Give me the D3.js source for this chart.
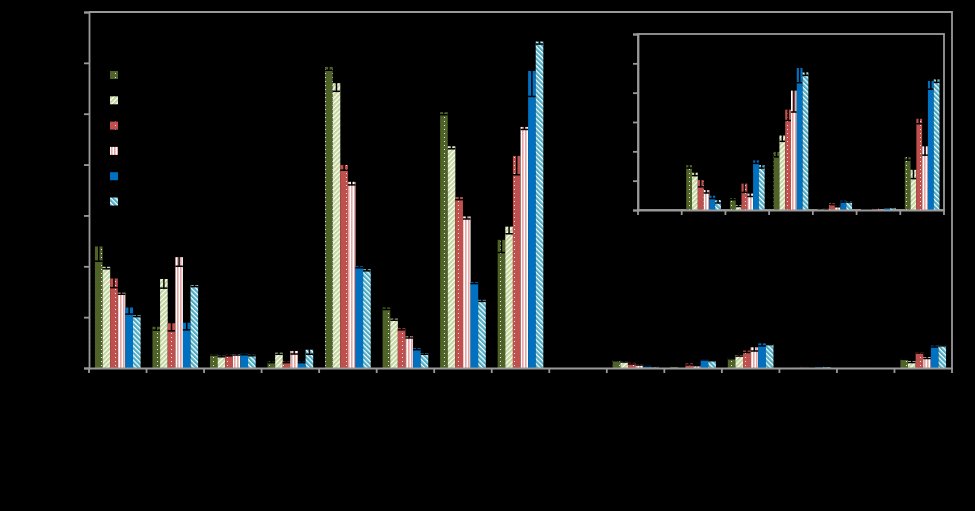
<!DOCTYPE html>
<html>
<head>
<meta charset="utf-8">
<script src="https://cdn.jsdelivr.net/npm/d3@7"></script>
<style>
  body { margin: 0; background: #000; }
  svg { display: block; }
  text { font-family: "Liberation Sans", Arial, sans-serif; font-size: 11px; fill: #000; }
</style>
</head>
<body>
<div id="chart-area"></div>
<script>

var width = 975,
	height = 511;

// 15 groups, the inset zooms in on groups 9-15
var categories = ["1","2","3","4","5","6","7","8","9","10","11","12","13","14","15"];
var insetCategories = ["9","10","11","12","13","14","15"];
var seriesNames = ["s1","s2","s3","s4","s5","s6"];

var values = [
	[23.9, 8.1, 2.75, 1.25, 59.2, 11.9, 50.3, 25.2, 0, 1.53, 0.40, 1.98, 0.06, 0.01, 1.80],
	[19.9, 17.5, 2.4, 3.0, 56.0, 9.7, 43.6, 27.8, 0, 1.27, 0.17, 2.54, 0.04, 0.01, 1.37],
	[17.6, 8.8, 2.6, 1.25, 39.9, 7.8, 33.6, 41.7, 0, 1.02, 0.90, 3.42, 0.23, 0.06, 3.11],
	[14.8, 21.8, 2.75, 3.35, 36.6, 6.2, 29.8, 47.4, 0, 0.68, 0.56, 4.07, 0.14, 0.06, 2.17],
	[11.9, 8.9, 2.8, 1.25, 20.0, 3.9, 16.9, 58.4, 0, 0.49, 1.69, 4.84, 0.32, 0.09, 4.40],
	[10.4, 16.3, 2.6, 3.6, 19.4, 2.9, 13.4, 64.2, 0, 0.34, 1.53, 4.69, 0.30, 0.09, 4.45]
];

var errors = [
	[2.9, 0.65, 0.2, 0.2, 0.65, 0.4, 0.5, 2.5, 0, 0.1, 0.05, 0.17, 0.02, 0, 0.1],
	[0.4, 1.8, 0.2, 0.3, 1.6, 0.3, 0.5, 1.4, 0, 0.1, 0.05, 0.2, 0.02, 0, 0.3],
	[1.8, 1.5, 0.2, 0.2, 1.0, 0.3, 0.5, 3.7, 0, 0.23, 0.3, 0.37, 0.05, 0.01, 0.17],
	[0.3, 1.8, 0.2, 0.6, 0.6, 0.3, 0.5, 0.5, 0, 0.1, 0.1, 0.73, 0.03, 0.01, 0.3],
	[1.3, 1.4, 0.2, 0.2, 0.3, 0.3, 0.3, 5.0, 0, 0.1, 0.1, 0.5, 0.05, 0.01, 0.28],
	[0.3, 0.3, 0.2, 0.9, 0.3, 0.2, 0.3, 0.5, 0, 0.1, 0.1, 0.1, 0.03, 0.01, 0.1]
];

var mainTicks = [0, 10, 20, 30, 40, 50, 60, 70];
var insetTicks = [0, 1, 2, 3, 4, 5, 6];

var axisColor = "#999";

var svg = d3.select("#chart-area").append("svg")
	.attr("width", width)
	.attr("height", height);

svg.append("rect").attr("width", width).attr("height", height).attr("fill", "#000");

// fill patterns
var defs = svg.append("defs");

function dotPattern(id, base) {
	var p = defs.append("pattern").attr("id", id)
		.attr("patternUnits", "userSpaceOnUse")
		.attr("width", 7).attr("height", 4);
	p.append("rect").attr("width", 7).attr("height", 4).attr("fill", base);
	p.append("rect").attr("x", 3).attr("y", 1).attr("width", 1).attr("height", 1).attr("fill", "#fff").attr("opacity", 0.85);
}
function diagPattern(id, color, angle) {
	var p = defs.append("pattern").attr("id", id)
		.attr("patternUnits", "userSpaceOnUse")
		.attr("width", 3.4).attr("height", 3.4)
		.attr("patternTransform", "rotate(" + angle + ")");
	p.append("rect").attr("width", 3.4).attr("height", 3.4).attr("fill", "#fff");
	p.append("rect").attr("width", 2.2).attr("height", 3.4).attr("fill", color);
}
dotPattern("p1", "#4f6228");
diagPattern("p2", "#c3d69b", 45);
dotPattern("p3", "#c0504d");
var p4 = defs.append("pattern").attr("id", "p4")
	.attr("patternUnits", "userSpaceOnUse")
	.attr("width", 3).attr("height", 3);
p4.append("rect").attr("width", 3).attr("height", 3).attr("fill", "#fff");
p4.append("rect").attr("width", 1.6).attr("height", 3).attr("fill", "#e6a4a2");
diagPattern("p6", "#4bacc6", -45);

var fills = ["url(#p1)", "url(#p2)", "url(#p3)", "url(#p4)", "#0070c0", "url(#p6)"];

function drawPanel(g, cats, offset, ticks, box, clipId) {
	var x0 = d3.scaleBand().domain(cats).range([box.left, box.right]).padding(0);
	var x1 = d3.scaleBand().domain(seriesNames).range([0, x0.bandwidth()]).paddingInner(0).paddingOuter(0.78);
	var y = d3.scaleLinear().domain([0, ticks[ticks.length - 1]]).range([box.bottom, box.top]);

	defs.append("clipPath").attr("id", clipId).append("rect")
		.attr("x", box.left).attr("y", box.top)
		.attr("width", box.right - box.left).attr("height", box.bottom - box.top);

	var bars = g.append("g").attr("clip-path", "url(#" + clipId + ")");

	for (var s = 0; s < seriesNames.length; s++) {
		var rows = cats.map(function(c, i) {
			return {cat: c, v: values[s][i + offset], e: errors[s][i + offset]};
		});
		var sg = bars.append("g");
		sg.selectAll("rect").data(rows).enter().append("rect")
			.attr("x", function(d) { return x0(d.cat) + x1(seriesNames[s]); })
			.attr("y", function(d) { return y(d.v); })
			.attr("width", x1.bandwidth())
			.attr("height", function(d) { return y(0) - y(d.v); })
			.attr("fill", fills[s]);

		// error bars in black
		var eg = sg.selectAll("g.err").data(rows.filter(function(d) { return d.v > 0; }))
			.enter().append("g").attr("class", "err")
			.attr("stroke", "#000").attr("stroke-width", 1.5);
		eg.append("line")
			.attr("x1", function(d) { return x0(d.cat) + x1(seriesNames[s]) + x1.bandwidth() / 2; })
			.attr("x2", function(d) { return x0(d.cat) + x1(seriesNames[s]) + x1.bandwidth() / 2; })
			.attr("y1", function(d) { return y(d.v + d.e); })
			.attr("y2", function(d) { return y(Math.max(0, d.v - d.e)); });
		eg.append("line")
			.attr("x1", function(d) { return x0(d.cat) + x1(seriesNames[s]); })
			.attr("x2", function(d) { return x0(d.cat) + x1(seriesNames[s]) + x1.bandwidth(); })
			.attr("y1", function(d) { return y(Math.max(0, d.v - d.e)); })
			.attr("y2", function(d) { return y(Math.max(0, d.v - d.e)); });
	}

	// axes
	var yAxis = d3.axisLeft(y).tickValues(ticks).tickSize(5).tickPadding(4);
	var ya = g.append("g").attr("transform", "translate(" + box.left + ",0)").call(yAxis);
	var xAxis = d3.axisBottom(x0).tickValues([]).tickSizeOuter(0);
	var xa = g.append("g").attr("transform", "translate(0," + box.bottom + ")").call(xAxis);

	// category boundary ticks
	var bounds = cats.map(function(c) { return x0(c); }).concat([box.right]);
	xa.selectAll("line.bt").data(bounds).enter().append("line").attr("class", "bt")
		.attr("x1", function(d) { return d; }).attr("x2", function(d) { return d; })
		.attr("y1", 0).attr("y2", 5);

	[ya, xa].forEach(function(a) {
		a.selectAll("path, line").attr("stroke", axisColor).attr("stroke-width", 1.8);
		a.selectAll("text").attr("fill", "#000");
	});
	return {x0: x0, y: y};
}

// main panel
var mainBox = {left: 89, right: 952, top: 12, bottom: 368};
var mainG = svg.append("g");
mainG.append("path")
	.attr("d", "M" + mainBox.left + "," + mainBox.top + "H" + mainBox.right + "V" + mainBox.bottom)
	.attr("fill", "none").attr("stroke", axisColor).attr("stroke-width", 1.8);
drawPanel(mainG, categories, 0, mainTicks, mainBox, "clipMain");

// legend
var legend = svg.append("g");
seriesNames.forEach(function(s, i) {
	legend.append("rect")
		.attr("x", 110).attr("y", 71 + i * 25.3)
		.attr("width", 8).attr("height", 8)
		.attr("fill", fills[i]);
	legend.append("text")
		.attr("x", 124).attr("y", 79 + i * 25.3)
		.text(s);
});

// inset panel
var insetBox = {left: 638, right: 944, top: 34, bottom: 210};
var insetG = svg.append("g");
insetG.append("rect")
	.attr("x", insetBox.left).attr("y", insetBox.top)
	.attr("width", insetBox.right - insetBox.left).attr("height", insetBox.bottom - insetBox.top)
	.attr("fill", "#000").attr("stroke", axisColor).attr("stroke-width", 1.8);
drawPanel(insetG, insetCategories, 8, insetTicks, insetBox, "clipInset");

</script>
</body>
</html>
